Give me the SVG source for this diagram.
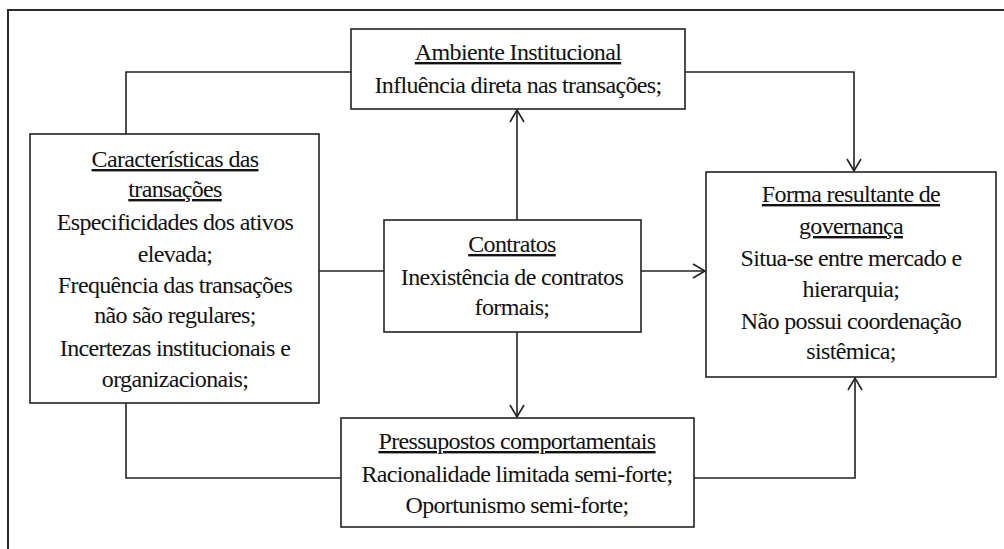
<svg xmlns="http://www.w3.org/2000/svg" width="1004" height="549" viewBox="0 0 1004 549">
<style>
  .box { fill: #ffffff; stroke: #222222; stroke-width: 1.6; }
  .conn { fill: none; stroke: #222222; stroke-width: 1.6; }
  .frame { fill: none; stroke: #2a2a2a; stroke-width: 2; }
  .t { font-family: 'Liberation Serif', 'Times New Roman', Times, serif; font-size: 24px; letter-spacing: -0.65px; fill: #111111; text-anchor: middle; }
  .u { text-decoration: underline; }
</style>
<defs>
  <marker id="arr" markerUnits="userSpaceOnUse" markerWidth="20" markerHeight="20" viewBox="-14 -10 16 20" refX="0" refY="0" orient="auto">
    <path d="M-12,-7 L0,0 L-12,7" fill="none" stroke="#222222" stroke-width="1.6"/>
  </marker>
</defs>
<rect width="1004" height="549" fill="#ffffff"/>
<g id="frame">
  <path class="frame" d="M8,549 L8,10 L1004,10"/>
</g>
<g id="connectors">
  <path class="conn" d="M351,72 L126,72 L126,134"/>
  <path class="conn" d="M685,72 L854,72 L854,171" marker-end="url(#arr)"/>
  <path class="conn" d="M517,220 L517,110" marker-end="url(#arr)"/>
  <path class="conn" d="M517,332 L517,417" marker-end="url(#arr)"/>
  <path class="conn" d="M319,271 L384,271"/>
  <path class="conn" d="M641,271 L705,271" marker-end="url(#arr)"/>
  <path class="conn" d="M126,403 L126,478 L341,478"/>
  <path class="conn" d="M694,478 L855,478 L855,378" marker-end="url(#arr)"/>
</g>
<g id="ambiente" class="t">
  <rect class="box" x="351" y="29" width="334" height="80"/>
  <text x="518" y="60" class="u">Ambiente Institucional</text>
  <text x="518" y="93">Influência direta nas transações;</text>
</g>
<g id="caracteristicas" class="t">
  <rect class="box" x="30" y="134" width="289" height="269"/>
  <text x="175" y="167" class="u">Características das</text>
  <text x="175" y="197" class="u">transações</text>
  <text x="175" y="230">Especificidades dos ativos</text>
  <text x="175" y="262">elevada;</text>
  <text x="175" y="293">Frequência das transações</text>
  <text x="175" y="323">não são regulares;</text>
  <text x="175" y="356">Incertezas institucionais e</text>
  <text x="175" y="387">organizacionais;</text>
</g>
<g id="contratos" class="t">
  <rect class="box" x="384" y="220" width="257" height="112"/>
  <text x="512" y="252" class="u">Contratos</text>
  <text x="512" y="285">Inexistência de contratos</text>
  <text x="512" y="315">formais;</text>
</g>
<g id="forma" class="t">
  <rect class="box" x="706" y="172" width="290" height="205"/>
  <text x="851" y="202" class="u">Forma resultante de</text>
  <text x="851" y="234" class="u">governança</text>
  <text x="851" y="266">Situa-se entre mercado e</text>
  <text x="851" y="297">hierarquia;</text>
  <text x="851" y="329">Não possui coordenação</text>
  <text x="851" y="359">sistêmica;</text>
</g>
<g id="pressupostos" class="t">
  <rect class="box" x="341" y="418" width="353" height="109"/>
  <text x="517" y="449" class="u">Pressupostos comportamentais</text>
  <text x="517" y="482">Racionalidade limitada semi-forte;</text>
  <text x="517" y="513">Oportunismo semi-forte;</text>
</g>
</svg>
